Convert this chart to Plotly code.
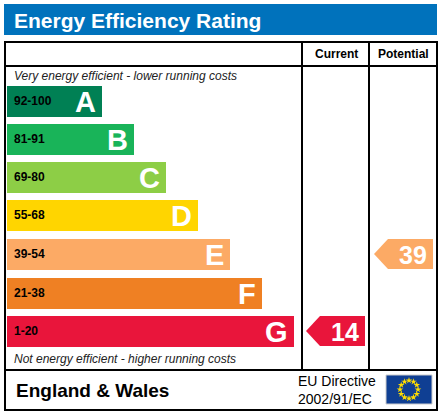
import numpy as np
import plotly.graph_objects as go

bands = ["A", "B", "C", "D", "E", "F", "G"]
ranges = ["92-100", "81-91", "69-80", "55-68", "39-54", "21-38", "1-20"]
colors = ["#008054", "#19b459", "#8dce46", "#ffd500", "#fcaa65", "#ef8023", "#e9153b"]
bar_ends = [102, 134, 166, 198, 230, 262, 294]
bar_mid = [101, 139, 177, 215, 254, 293, 331]
current_score, current_band = 14, "G"
potential_score, potential_band = 39, "E"

fig = go.Figure()
fig.add_trace(go.Bar(y=bar_mid, x=[e - 7 for e in bar_ends], base=7, orientation="h",
                     width=31, marker=dict(color=colors, line=dict(width=0)),
                     hoverinfo="skip", showlegend=False))
for b, r, e, m in zip(bands, ranges, bar_ends, bar_mid):
    fig.add_annotation(x=12, y=m, text="<b>%s</b>" % r, showarrow=False, xanchor="left",
                       font=dict(size=12, color="black", family="Liberation Sans"))
    fig.add_annotation(x=e - 4, y=m + 1, text="<b>%s</b>" % b, showarrow=False, xanchor="right",
                       font=dict(size=29, color="white", family="Liberation Sans"))

def arrow(score, band, x0, x1):
    i = bands.index(band)
    m = bar_mid[i]
    h = 15
    xs = [x0, x0 + 14, x1, x1, x0 + 14, x0]
    ys = [m, m - h, m - h, m + h, m + h, m]
    fig.add_trace(go.Scatter(x=xs, y=ys, fill="toself", fillcolor=colors[i], mode="lines",
                             line=dict(width=0), hoverinfo="skip", showlegend=False))
    fig.add_annotation(x=x1 - 4, y=m + 1, text="<b>%d</b>" % score, showarrow=False, xanchor="right",
                       font=dict(size=25, color="white", family="Liberation Sans"))

arrow(current_score, current_band, 306, 365)
arrow(potential_score, potential_band, 374, 433)

# EU flag stars
ang = np.linspace(0, 2 * np.pi, 13)[:-1]
fig.add_trace(go.Scatter(x=409 + 9 * np.cos(ang), y=389.5 + 9 * np.sin(ang), mode="markers",
                         marker=dict(symbol="star", size=5, color="#ffdd00"),
                         hoverinfo="skip", showlegend=False))

line = dict(color="black", width=2)
shapes = [
    dict(type="rect", x0=4, x1=437, y0=4, y1=35, fillcolor="#0072bc", line=dict(width=0), layer="below"),
    dict(type="rect", x0=5, x1=437, y0=42, y1=410, line=line),
    dict(type="line", x0=5, x1=437, y0=66, y1=66, line=line),
    dict(type="line", x0=5, x1=437, y0=370, y1=370, line=line),
    dict(type="line", x0=302, x1=302, y0=42, y1=370, line=line),
    dict(type="line", x0=369, x1=369, y0=42, y1=370, line=line),
    dict(type="rect", x0=386, x1=432, y0=375, y1=404, fillcolor="#0f3f93",
         line=dict(color="#cccccc", width=1), layer="below"),
]
f = "Liberation Sans"
texts = [
    (12, 20, "<b>Energy Efficiency Rating</b>", 21, "white", "left"),
    (336, 54, "<b>Current</b>", 12, "black", "center"),
    (403, 54, "<b>Potential</b>", 12, "black", "center"),
    (12, 76, "<i>Very energy efficient - lower running costs</i>", 12, "#222", "left"),
    (12, 359, "<i>Not energy efficient - higher running costs</i>", 12, "#222", "left"),
    (14, 390, "<b>England & Wales</b>", 19, "black", "left"),
]
for x, y, t, s, c, a in texts:
    fig.add_annotation(x=x, y=y, text=t, showarrow=False, xanchor=a,
                       font=dict(size=s, color=c, family=f))
fig.add_annotation(x=378, y=390, text="EU Directive<br>2002/91/EC", showarrow=False, xanchor="right",
                   align="left", font=dict(size=14, color="black", family=f))

fig.update_layout(width=440, height=414, margin=dict(l=0, r=0, t=0, b=0),
                  plot_bgcolor="white", paper_bgcolor="white", shapes=shapes, bargap=0,
                  xaxis=dict(range=[0, 440], visible=False, fixedrange=True),
                  yaxis=dict(range=[414, 0], visible=False, fixedrange=True))
fig.write_html("out.html", config={"displayModeBar": False},
               post_script="document.body.style.margin='0';document.body.style.overflow='hidden';")
